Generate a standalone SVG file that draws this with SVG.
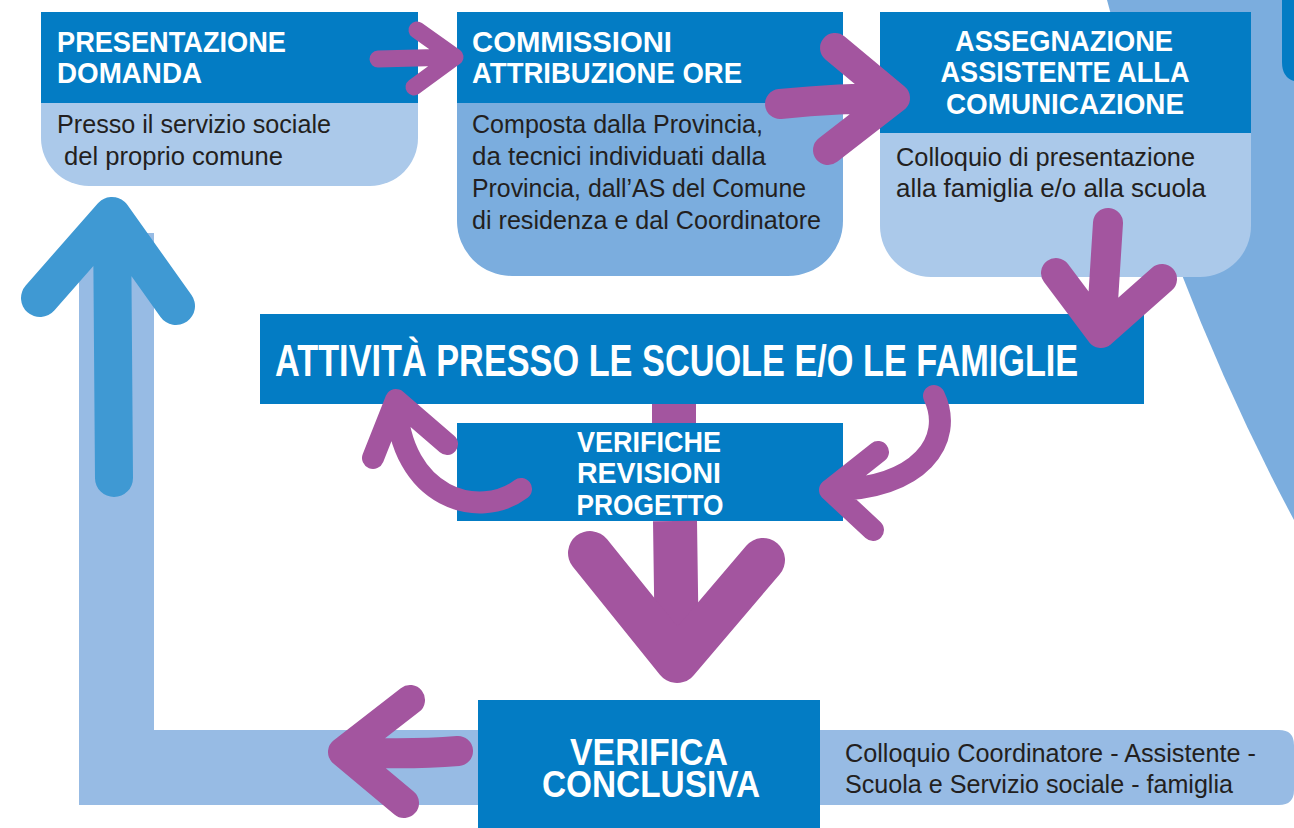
<svg xmlns="http://www.w3.org/2000/svg" width="1294" height="828" viewBox="0 0 1294 828">
<style>
.hd{fill:#037cc4}
.lt{fill:#abc9ea}
.md{fill:#7badde}
.bar{fill:#97bbe4}
.h{font-family:"Liberation Sans",Arial,sans-serif;font-weight:bold;fill:#ffffff}
.b{font-family:"Liberation Sans",Arial,sans-serif;fill:#231f20;font-size:25px}
.pa{fill:none;stroke:#a3559f;stroke-linecap:round;stroke-linejoin:round}
.pb{fill:none;stroke:#a3559f;stroke-linecap:butt}
.ba{fill:none;stroke:#3f99d3;stroke-linecap:round;stroke-linejoin:round}
</style>
<rect width="1294" height="828" fill="#ffffff"/>
<g id="background">
<path class="md" d="M1107 0 H1294 V520 Q1230 400 1180 270 Z"/>
<path class="hd" d="M1282 0 H1294 V82 H1302 Q1282 82 1282 62 Z"/>
<rect class="bar" x="79" y="233" width="75" height="572"/>
<rect class="bar" x="79" y="730" width="420" height="75"/>
<path class="bar" d="M800 730 H1279 Q1294 730 1294 745 V790 Q1294 805 1279 805 H800 Z"/>
</g>
<g id="n-presentazione">
<path class="lt" d="M41 12 H418 V138 A48 48 0 0 1 370 186 H89 A48 48 0 0 1 41 138 Z"/>
<rect class="hd" x="41" y="12" width="377" height="91"/>
<text class="h" font-size="30" x="57" y="52" textLength="229" lengthAdjust="spacingAndGlyphs">PRESENTAZIONE</text>
<text class="h" font-size="30" x="57" y="83" textLength="145" lengthAdjust="spacingAndGlyphs">DOMANDA</text>
<text class="b" x="57" y="133" textLength="274" lengthAdjust="spacingAndGlyphs">Presso il servizio sociale</text>
<text class="b" x="64" y="165" textLength="219" lengthAdjust="spacingAndGlyphs">del proprio comune</text>
</g>
<g id="n-commissioni">
<path class="md" d="M457 12 H843 V221 A55 55 0 0 1 788 276 H512 A55 55 0 0 1 457 221 Z"/>
<rect class="hd" x="457" y="12" width="386" height="91"/>
<text class="h" font-size="30" x="472" y="52" textLength="200" lengthAdjust="spacingAndGlyphs">COMMISSIONI</text>
<text class="h" font-size="30" x="472" y="83" textLength="270" lengthAdjust="spacingAndGlyphs">ATTRIBUZIONE ORE</text>
<text class="b" x="472" y="133" textLength="291" lengthAdjust="spacingAndGlyphs">Composta dalla Provincia,</text>
<text class="b" x="472" y="165" textLength="294" lengthAdjust="spacingAndGlyphs">da tecnici individuati dalla</text>
<text class="b" x="472" y="197" textLength="334" lengthAdjust="spacingAndGlyphs">Provincia, dall’AS del Comune</text>
<text class="b" x="472" y="229" textLength="349" lengthAdjust="spacingAndGlyphs">di residenza e dal Coordinatore</text>
</g>
<g id="n-assegnazione">
<path class="lt" d="M880 12 H1251 V226 A51 51 0 0 1 1200 277 H931 A51 51 0 0 1 880 226 Z"/>
<rect class="hd" x="880" y="12" width="371" height="121"/>
<text class="h" font-size="30" x="1064" y="51" text-anchor="middle" textLength="218" lengthAdjust="spacingAndGlyphs">ASSEGNAZIONE</text>
<text class="h" font-size="30" x="1065" y="82" text-anchor="middle" textLength="249" lengthAdjust="spacingAndGlyphs">ASSISTENTE ALLA</text>
<text class="h" font-size="30" x="1065" y="114" text-anchor="middle" textLength="238" lengthAdjust="spacingAndGlyphs">COMUNICAZIONE</text>
<text class="b" x="896" y="166" textLength="299" lengthAdjust="spacingAndGlyphs">Colloquio di presentazione</text>
<text class="b" x="896" y="197" textLength="310" lengthAdjust="spacingAndGlyphs">alla famiglia e/o alla scuola</text>
</g>
<g id="n-attivita">
<rect class="hd" x="260" y="314" width="884" height="90"/>
<text class="h" font-size="44" x="0" y="0" transform="translate(275 376) scale(0.7794 1)">ATTIVITÀ PRESSO LE SCUOLE E/O LE FAMIGLIE</text>
</g>
<g id="n-verifiche">
<rect class="hd" x="457" y="423" width="386" height="98"/>
<text class="h" font-size="30" x="649" y="452" text-anchor="middle" textLength="144" lengthAdjust="spacingAndGlyphs">VERIFICHE</text>
<text class="h" font-size="30" x="649" y="483" text-anchor="middle" textLength="144" lengthAdjust="spacingAndGlyphs">REVISIONI</text>
<text class="h" font-size="30" x="650" y="515" text-anchor="middle" textLength="147" lengthAdjust="spacingAndGlyphs">PROGETTO</text>
</g>
<g id="n-verifica-conclusiva">
<rect class="hd" x="478" y="700" width="342" height="128"/>
<text class="h" font-size="36" x="649" y="765" text-anchor="middle" textLength="158" lengthAdjust="spacingAndGlyphs">VERIFICA</text>
<text class="h" font-size="36" x="651" y="797" text-anchor="middle" textLength="218" lengthAdjust="spacingAndGlyphs">CONCLUSIVA</text>
</g>
<g id="n-colloquio-finale">
<text class="b" x="845" y="762" textLength="411" lengthAdjust="spacingAndGlyphs">Colloquio Coordinatore - Assistente -</text>
<text class="b" x="845" y="793" textLength="388" lengthAdjust="spacingAndGlyphs">Scuola e Servizio sociale - famiglia</text>
</g>
<g id="connectors">
<path class="ba" stroke-width="38" d="M114 478 L112 216 M40 298 L112 216 L176 306"/>
<path class="pa" stroke-width="17" d="M378 59 L455 57 M417 30 L455 57 L414 87"/>
<path class="pa" stroke-width="30" d="M780 104 Q840 98 895 98 M835 48 L895 98 L828 150"/>
<path class="pa" stroke-width="30" d="M1108 223 L1101 333 M1056 273 L1101 333 L1162 279"/>
<path class="pb" stroke-width="44" d="M674 404 V423 M675 521 L677 660"/>
<path class="pa" stroke-width="44" d="M590 553 L677 661 L763 560"/>
<path class="pa" stroke-width="22" d="M521 489 C480 520 400 500 396 400 M373 458 L396 400 L447 444"/>
<path class="pa" stroke-width="22" d="M934 396 C955 440 920 490 830 490 M878 452 L830 490 L873 530"/>
<path class="pa" stroke-width="30" d="M458 751 Q410 755 343 752 M410 700 L343 752 L404 803"/>
</g>
</svg>
